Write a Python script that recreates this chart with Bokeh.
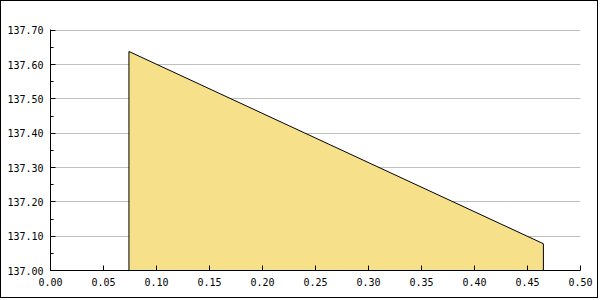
from bokeh.plotting import figure
from bokeh.models import Range1d, FixedTicker, NumeralTickFormatter
from bokeh.embed import file_html
from bokeh.resources import INLINE

# data
x_vals = [0.074, 0.465]
y_vals = [137.638, 137.078]
y_base = 137.0

x_ticks = [0.00, 0.05, 0.10, 0.15, 0.20, 0.25, 0.30, 0.35, 0.40, 0.45, 0.50]
y_ticks = [137.00, 137.10, 137.20, 137.30, 137.40, 137.50, 137.60, 137.70]
y_minor = [137.05, 137.15, 137.25, 137.35, 137.45, 137.55, 137.65]

FONT = "DejaVu Sans Mono"

p = figure(width=598, height=298, output_backend="svg", toolbar_location=None,
           x_range=Range1d(0.0, 0.5), y_range=Range1d(137.0, 137.702),
           min_border_left=49, min_border_right=19, min_border_top=28, min_border_bottom=29)
p.styles = {"border": "1px solid black"}
p.outline_line_color = None
p.background_fill_color = "white"
p.border_fill_color = "white"

xs = [x_vals[0]] + x_vals + [x_vals[-1]]
ys = [y_base] + y_vals + [y_base]
p.patch(xs, ys, fill_color="#F6E18A", line_color="black", line_width=1)

p.xaxis.ticker = FixedTicker(ticks=x_ticks)
p.yaxis.ticker = FixedTicker(ticks=y_ticks, minor_ticks=y_minor)
p.xaxis.formatter = NumeralTickFormatter(format="0.00")
p.yaxis.formatter = NumeralTickFormatter(format="0.00")

for ax in (p.xaxis, p.yaxis):
    ax.major_tick_in = 5
    ax.major_tick_out = 0
    ax.minor_tick_in = 3
    ax.minor_tick_out = 0
    ax.axis_line_color = "black"
    ax.major_tick_line_color = "black"
    ax.minor_tick_line_color = "black"
    ax.major_label_text_font = FONT
    ax.major_label_text_font_size = "10px"
    ax.major_label_text_color = "black"
p.xaxis.major_label_standoff = 7
p.yaxis.major_label_standoff = 7

p.xgrid.grid_line_color = None
p.ygrid.grid_line_color = "#C0C0C0"
p.ygrid.grid_line_width = 1

open("out.html", "w").write(file_html(p, INLINE))
